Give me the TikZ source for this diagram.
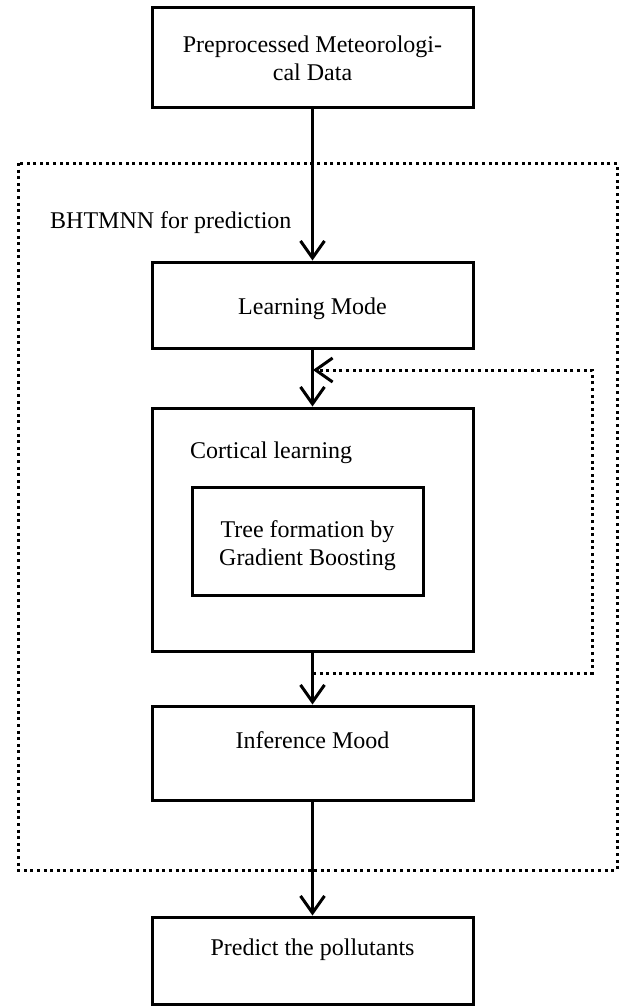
\documentclass[tikz,border=0pt]{standalone}
\usepackage{fontspec}
\setmainfont{Liberation Serif}
\usetikzlibrary{arrows.meta}
\begin{document}
\begin{tikzpicture}[x=1pt,y=-1pt,
  box/.style={draw, line width=3pt, rectangle, inner sep=0pt},
  lbl/.style={font=\fontsize{24}{28}\selectfont, inner sep=0pt, align=center},
  flow/.style={line width=3pt, -{Straight Barb[length=17pt,width=24pt,line width=3pt]}},
  dotline/.style={line width=3pt, dash pattern=on 3pt off 3.6pt},
  loopline/.style={dotline, -{Straight Barb[length=17pt,width=24pt,line width=3pt]}}]
  \useasboundingbox (0,0) rectangle (630,1007);

  % outer dotted frame of the BHTMNN block
  \draw[dotline] (18,163) rectangle (617,870);
  \node[lbl, anchor=base west] (frame) at (50,228) {BHTMNN for prediction};

  % boxes
  \node[box, minimum width=321pt, minimum height=100pt] (pre)   at (312.5,57)   {};
  \node[box, minimum width=321pt, minimum height=86pt]  (learn) at (312.5,305)  {};
  \node[box, minimum width=321pt, minimum height=243pt] (cort)  at (312.5,529.5){};
  \node[box, minimum width=231pt, minimum height=108pt] (tree)  at (307.5,541)  {};
  \node[box, minimum width=321pt, minimum height=94pt]  (infer) at (312.5,753)  {};
  \node[box, minimum width=321pt, minimum height=87pt]  (pred)  at (312.5,960.5){};

  % box texts (two-line texts are placed by the baseline of their last line)
  \node[lbl, anchor=base] (preT)   at (312.5,80)  {Preprocessed Meteorologi-\\cal Data};
  \node[lbl, anchor=base] (learnT) at (312.5,314) {Learning Mode};
  \node[lbl, anchor=base west] (cortT) at (190,458) {Cortical learning};
  \node[lbl, anchor=base] (treeT)  at (307.5,565) {Tree formation by\\Gradient Boosting};
  \node[lbl, anchor=base] (inferT) at (312.5,748) {Inference Mood};
  \node[lbl, anchor=base] (predT)  at (312.5,955) {Predict the pollutants};

  % main flow
  \draw[flow] (pre.south) -- (learn.north);
  \draw[flow] (learn.south) -- (cort.north);
  \draw[flow] (cort.south) -- (infer.north);
  \draw[flow] (infer.south) -- (pred.north);

  % feedback loop back into cortical learning
  \coordinate (loopS) at (313,673);
  \coordinate (loopE) at (313,370);
  \draw[loopline] (loopS) -- (592,673) -- (592,370) -- (loopE);
\end{tikzpicture}
\end{document}
